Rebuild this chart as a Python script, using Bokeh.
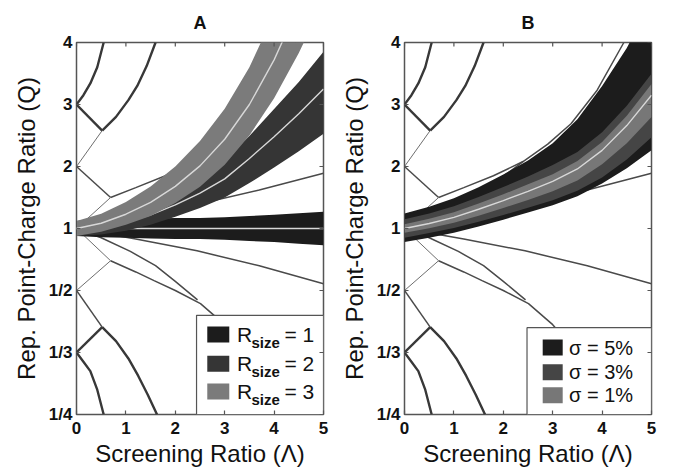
import numpy as np
from bokeh.plotting import figure
from bokeh.layouts import row
from bokeh.models import Range1d, FixedTicker, Label
from bokeh.embed import file_html
from bokeh.resources import INLINE

FONT = "Liberation Sans"

# ---------------- axes ----------------
X_TICKS = [0, 1, 2, 3, 4, 5]
Q_TICKS = [0.25, 1 / 3, 0.5, 1, 2, 3, 4]
Q_TICK_LABELS = ["1/4", "1/3", "1/2", "1", "2", "3", "4"]

# ---------------- bands (Q values on a common screening-ratio grid) ----------------
X_GRID = [0, 0.5, 1, 1.5, 2, 2.5, 3, 3.5, 4, 4.5, 5]

# Panel A : R_size = 1, 2, 3
A_R1_CENTER = [1, 1, 1, 1, 1, 1, 1, 1, 1, 1, 1]
A_R1_UPPER = [1.12, 1.14, 1.15, 1.16, 1.17, 1.17, 1.18, 1.20, 1.22, 1.245, 1.27]
A_R1_LOWER = [0.893, 0.877, 0.870, 0.862, 0.855, 0.855, 0.847, 0.833, 0.820, 0.803, 0.787]

A_R2_CENTER = [1, 1.03, 1.10, 1.22, 1.38, 1.57, 1.80, 2.13, 2.48, 2.85, 3.25]
A_R2_UPPER = [1.12, 1.164, 1.254, 1.403, 1.601, 1.837, 2.106, 2.492, 2.926, 3.363, 3.851]
A_R2_LOWER = [0.893, 0.912, 0.965, 1.061, 1.190, 1.331, 1.500, 1.732, 1.984, 2.244, 2.529]

A_R3_CENTER = [1, 1.085, 1.23, 1.42, 1.68, 2.01, 2.44, 3.00, 3.72, 4.60, 5.60]
A_R3_UPPER = [1.12, 1.237, 1.427, 1.676, 2.00, 2.41, 2.93, 3.60, 4.46, 5.50, 6.70]
A_R3_LOWER = [0.893, 0.952, 1.06, 1.203, 1.412, 1.675, 2.03, 2.50, 3.10, 3.83, 4.67]

# Panel B : sigma = 5 %, 3 %, 1 %
B_CENTER = [1, 1.08, 1.18, 1.31, 1.45, 1.60, 1.76, 1.96, 2.26, 2.66, 3.15]
B_S5_UPPER = [1.24, 1.35, 1.487, 1.664, 1.871, 2.096, 2.376, 2.764, 3.30, 3.91, 4.69]
B_S5_LOWER = [0.820, 0.871, 0.937, 1.031, 1.142, 1.260, 1.375, 1.519, 1.725, 1.970, 2.264]
B_S3_UPPER = [1.15, 1.242, 1.357, 1.507, 1.668, 1.840, 2.024, 2.234, 2.554, 2.979, 3.497]
B_S3_LOWER = [0.870, 0.931, 1.009, 1.110, 1.218, 1.333, 1.455, 1.607, 1.823, 2.111, 2.471]
B_S1_UPPER = [1.07, 1.156, 1.263, 1.402, 1.552, 1.712, 1.874, 2.087, 2.396, 2.820, 3.330]
B_S1_LOWER = [0.935, 1.005, 1.093, 1.207, 1.330, 1.461, 1.600, 1.774, 2.036, 2.375, 2.800]

# ---------------- phase boundaries, (Lambda, Q) ----------------
BND_Q3_TOP = [(0, 3.0), (0.14, 3.15), (0.28, 3.34), (0.42, 3.6), (0.55, 4.0)]
BND_Q3_J1 = [(0, 3.0), (0.52, 2.58)]
BND_J1_TOP = [(0.52, 2.58), (0.8, 2.8), (1.05, 3.07), (1.23, 3.3), (1.42, 3.62), (1.6, 4.0)]
BND_Q2_J1 = [(0, 2.0), (0.52, 2.58)]
BND_Q2_J2 = [(0, 2.0), (0.69, 1.5)]
BND_O_J2 = [(0, 1.0), (0.69, 1.5)]
BND_J2_RIGHT = [(0.69, 1.5), (1.2, 1.66), (1.8, 1.85), (2.4, 2.08), (2.9, 2.36),
                (3.37, 2.69), (3.9, 3.23), (4.44, 4.0)]
BND_U3 = [(0, 1.0), (0.5, 1.15), (1.09, 1.37), (1.6, 1.62), (2.1, 1.9), (2.4, 2.08)]
BND_U1 = [(0, 1.0), (1.2, 1.19), (2.5, 1.4), (3.7, 1.62), (5, 1.89)]

BND_Q13_BOT = [(0, 0.3333), (0.14, 0.3175), (0.28, 0.3030), (0.42, 0.2778), (0.55, 0.25)]
BND_Q13_J1L = [(0, 0.3333), (0.52, 0.386)]
BND_J1L_BOT = [(0.52, 0.386), (0.8, 0.355), (1.05, 0.323), (1.25, 0.296), (1.44, 0.272), (1.63, 0.25)]
BND_Q12_J1L = [(0, 0.5), (0.52, 0.386)]
BND_Q12_J2L = [(0, 0.5), (0.69, 0.658)]
BND_O_J2L = [(0, 1.0), (0.69, 0.658)]
BND_J2L_RIGHT = [(0.69, 0.658), (1.2, 0.588), (1.57, 0.543), (2.0, 0.5), (2.51, 0.452),
                 (3.0, 0.392), (3.5, 0.333)]
BND_L3 = [(0, 1.0), (0.5, 0.87), (1.09, 0.73), (1.6, 0.625), (2.0, 0.54), (2.45, 0.465)]
BND_L1 = [(0, 1.0), (1.2, 0.855), (2.44, 0.735), (3.7, 0.625), (5, 0.529)]

THICK = [BND_Q3_TOP, BND_Q3_J1, BND_J1_TOP, BND_Q13_BOT, BND_Q13_J1L, BND_J1L_BOT]
MEDIUM = [BND_Q2_J2, BND_Q12_J1L, BND_J2_RIGHT, BND_J2L_RIGHT, BND_U1, BND_L1, BND_L3, BND_U3]
THIN = [BND_Q2_J1, BND_O_J2, BND_Q12_J2L, BND_O_J2L]

LEGEND_A = ["1", "2", "3"]
LEGEND_B = ["\u03c3 = 5%", "\u03c3 = 3%", "\u03c3 = 1%"]

TICK_COLOR = "#555555"


def qy(q):
    """Map Q onto the symmetric axis: Q-1 above 1, 1-1/Q below 1."""
    q = np.asarray(q, dtype=float)
    return np.where(q >= 1, q - 1.0, 1.0 - 1.0 / q)


TICK_POS = [float(round(v, 6)) for v in qy(Q_TICKS)]


def panel(title, width, border_left, border_right):
    p = figure(width=width, height=472, x_range=Range1d(0, 5), y_range=Range1d(-3, 3),
               output_backend="svg", toolbar_location=None, title=title,
               min_border_left=border_left, min_border_right=border_right,
               min_border_top=42, min_border_bottom=58)
    p.background_fill_color = "white"
    p.border_fill_color = "white"
    p.outline_line_color = TICK_COLOR
    p.outline_line_width = 1.5
    p.xgrid.visible = False
    p.ygrid.visible = False
    p.title.align = "center"
    p.title.vertical_align = "top"
    p.title.standoff = 16
    p.title.text_font = FONT
    p.title.text_font_size = "18px"
    p.title.text_font_style = "bold"
    p.title.text_color = "#111111"

    p.xaxis.ticker = FixedTicker(ticks=X_TICKS)
    p.yaxis.ticker = FixedTicker(ticks=TICK_POS)
    p.yaxis.major_label_overrides = {t: l for t, l in zip(TICK_POS, Q_TICK_LABELS)}
    p.xaxis.axis_label = "Screening Ratio (\u039b)"
    p.yaxis.axis_label = "Rep. Point-Charge Ratio (Q)"
    for ax in (p.xaxis[0], p.yaxis[0]):
        ax.axis_line_color = None
        ax.major_tick_in = 4
        ax.major_tick_out = 0
        ax.minor_tick_in = 0
        ax.minor_tick_out = 0
        ax.major_tick_line_color = TICK_COLOR
        ax.major_tick_line_width = 1.2
        ax.major_label_text_font = FONT
        ax.major_label_text_font_size = "17px"
        ax.major_label_text_font_style = "bold"
        ax.major_label_text_color = "#111111"
        ax.major_label_standoff = 4
        ax.axis_label_text_font = FONT
        ax.axis_label_text_font_size = "24px"
        ax.axis_label_text_font_style = "normal"
        ax.axis_label_text_color = "#111111"
        ax.axis_label_standoff = 6
    p.xaxis.major_label_standoff = 7
    p.xaxis.axis_label_standoff = 3

    # boundary lines (drawn first so that the bands cover them)
    for group, w, c in ((THICK, 2.4, "#383838"), (MEDIUM, 1.5, "#4a4a4a"), (THIN, 1.0, "#6e6e6e")):
        for seg in group:
            xs = [pt[0] for pt in seg]
            ys = qy([pt[1] for pt in seg])
            p.line(xs, ys, line_width=w, line_color=c)
    return p


def box_ticks(p):
    # inward tick marks on the top and right edges of the box (clipped to the frame)
    p.scatter(x=X_TICKS, y=[3] * len(X_TICKS), marker="dash", size=8, angle=np.pi / 2,
              line_color=TICK_COLOR, line_width=1.2)
    p.scatter(x=[5] * len(TICK_POS), y=TICK_POS, marker="dash", size=8,
              line_color=TICK_COLOR, line_width=1.2)


def band(p, lower, upper, color):
    p.varea(x=X_GRID, y1=qy(lower), y2=qy(upper), fill_color=color, fill_alpha=1.0)


def centre(p, center):
    p.line(X_GRID, qy(center), line_color="#d8d8d8", line_width=1.4)


def legend_box(p, left, top):
    p.quad(left=[left], right=[5], bottom=[-3], top=[top], fill_color="white",
           line_color=TICK_COLOR, line_width=1.2)


# ---------------- Panel A ----------------
pa = panel("A", 337, 76, 14)
A_COLORS = ["#1c1c1c", "#353535", "#7b7b7b"]
for (lo, up, ce), col in zip(((A_R1_LOWER, A_R1_UPPER, A_R1_CENTER),
                              (A_R2_LOWER, A_R2_UPPER, A_R2_CENTER),
                              (A_R3_LOWER, A_R3_UPPER, A_R3_CENTER)), A_COLORS):
    band(pa, lo, up, col)
    centre(pa, ce)
legend_box(pa, 2.43, -1.4)
box_ticks(pa)
ya = [-1.71, -2.18, -2.63]
pa.rect(x=[2.87] * 3, y=ya, width=22, height=16, width_units="screen", height_units="screen",
        fill_color=A_COLORS, line_color=None)
for yy, lab in zip(ya, LEGEND_A):
    pa.add_layout(Label(x=3.25, y=yy, text="R", text_font=FONT, text_font_size="21px",
                        text_baseline="middle", text_color="#111111"))
    pa.add_layout(Label(x=3.54, y=yy, y_offset=-8, text="size", text_font=FONT,
                        text_font_size="15px", text_font_style="bold",
                        text_baseline="middle", text_color="#111111"))
    pa.add_layout(Label(x=4.21, y=yy, text="= " + lab, text_font=FONT, text_font_size="21px",
                        text_baseline="middle", text_color="#111111"))

# ---------------- Panel B ----------------
pb = panel("B", 338, 66, 24)
B_COLORS = ["#1c1c1c", "#454545", "#777777"]
band(pb, B_S5_LOWER, B_S5_UPPER, B_COLORS[0])
band(pb, B_S3_LOWER, B_S3_UPPER, B_COLORS[1])
band(pb, B_S1_LOWER, B_S1_UPPER, B_COLORS[2])
centre(pb, B_CENTER)
legend_box(pb, 2.48, -1.6)
box_ticks(pb)
yb = [-1.92, -2.32, -2.69]
pb.rect(x=[3.0] * 3, y=yb, width=20, height=16, width_units="screen", height_units="screen",
        fill_color=B_COLORS, line_color=None)
for yy, lab in zip(yb, LEGEND_B):
    pb.add_layout(Label(x=3.33, y=yy, text=lab, text_font=FONT, text_font_size="20px",
                        text_baseline="middle", text_color="#111111"))

layout = row(pa, pb)
open("out.html", "w").write(file_html(layout, INLINE))
